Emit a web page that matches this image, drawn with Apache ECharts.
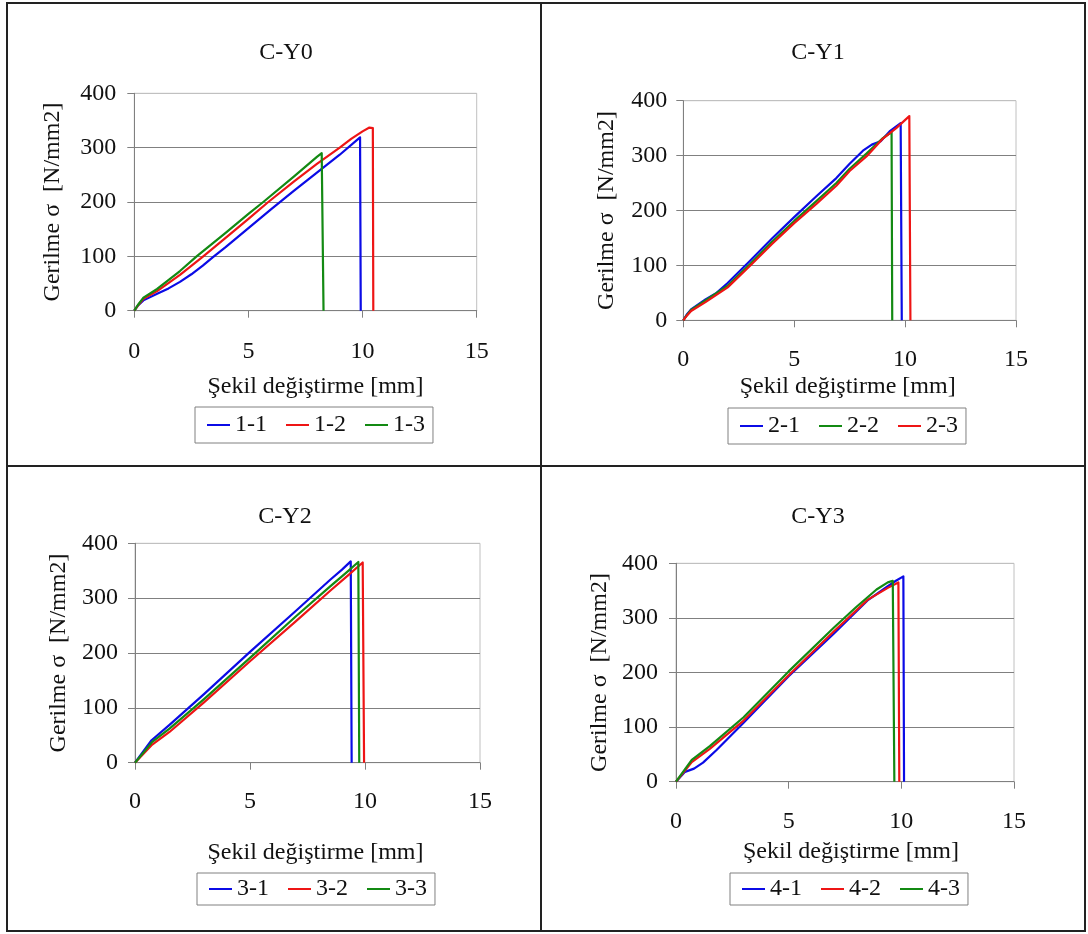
<!DOCTYPE html>
<html>
<head>
<meta charset="utf-8">
<script src="https://cdn.jsdelivr.net/npm/echarts@6/dist/echarts.min.js"></script>
<style>
html,body{margin:0;padding:0;background:#ffffff;}
#chart{width:1088px;height:934px;}
</style>
</head>
<body>
<div id="chart"></div>
<script>
// ---------- data ----------
const panelTitles = ['C-Y0', 'C-Y1', 'C-Y2', 'C-Y3'];
const xAxisTitle = 'Şekil değiştirme [mm]';
const yAxisTitle = 'Gerilme σ  [N/mm2]';
const xTicks = [0, 5, 10, 15];
const yTicks = [0, 100, 200, 300, 400];

const names1 = ['1-1', '1-2', '1-3'];
const names2 = ['2-1', '2-2', '2-3'];
const names3 = ['3-1', '3-2', '3-3'];
const names4 = ['4-1', '4-2', '4-3'];

// C-Y0  [deformation mm, stress N/mm2]
const s1_1 = [[0,0],[0.15,9],[0.4,19],[1,31],[1.5,41],[2,53],[2.5,67],[3,83],[3.46,99],[4,117],[5,152],[6,187],[7,221],[8,254],[9,287],[9.89,319],[9.92,0]];
const s1_2 = [[0,0],[0.15,9],[0.4,22],[1,36],[2,66],[3.02,100],[4,134],[5,169],[5.87,200],[7,238],[8,270],[9,300],[9.5,316],[10,330],[10.3,337],[10.45,336],[10.47,0]];
const s1_3 = [[0,0],[0.15,10],[0.4,24],[1,40],[2,73],[2.73,100],[4,143],[5,178],[5.65,200],[7,247],[8,283],[8.21,290],[8.28,287],[8.29,0]];

// C-Y1
const s2_1 = [[0,0],[0.15,10],[0.35,20],[1,38],[1.5,50],[2,68],[3,108],[4,149],[5,188],[6,226],[6.9,259],[7.5,285],[8.1,309],[8.5,320],[8.9,326],[9.3,344],[9.8,359],[9.85,0]];
const s2_2 = [[0,0],[0.15,9],[0.35,19],[1,36],[2,63],[3,102],[4,143],[5,181],[6,217],[6.9,250],[7.5,276],[8.27,304],[9,332],[9.39,343],[9.42,0]];
const s2_3 = [[0,0],[0.15,8],[0.35,17],[1,33],[2,60],[3,99],[4,139],[5,177],[6,212],[6.9,245],[7.5,272],[8.27,299],[9,331],[9.6,350],[10.19,372],[10.24,0]];

// C-Y2
const s3_1 = [[0,0],[0.72,41],[1.5,69],[3,125],[5,202],[7,277],[8.5,334],[9,352],[9.38,367],[9.42,0]];
const s3_2 = [[0,0],[0.75,33],[1.5,56],[3,110],[5,185],[7,258],[8.5,314],[9.3,343],[9.9,365],[9.96,0]];
const s3_3 = [[0,0],[0.75,38],[1.5,62],[3,116],[5,191],[7,267],[8.5,322],[9.2,347],[9.71,366],[9.75,0]];

// C-Y3
const s4_1 = [[0,0],[0.4,18],[0.8,24],[1.2,35],[1.8,58],[3,108],[5,193],[7,271],[8.5,332],[9.4,358],[9.76,368],[10.09,376],[10.12,0]];
const s4_2 = [[0,0],[0.7,36],[1.5,60],[3,112],[5,195],[7,275],[8.5,333],[9.4,355],[9.87,365],[9.91,0]];
const s4_3 = [[0,0],[0.7,40],[1.5,65],[3,118],[5,202],[7,282],[8,320],[8.9,352],[9.4,365],[9.62,368],[9.69,0]];

const BLUE = '#0b0be6', RED = '#ee1515', GREEN = '#138a13';

const panelSeries = [
  [[names1[0], s1_1, BLUE], [names1[1], s1_2, RED], [names1[2], s1_3, GREEN]],
  [[names2[0], s2_1, BLUE], [names2[1], s2_2, GREEN], [names2[2], s2_3, RED]],
  [[names3[0], s3_1, BLUE], [names3[1], s3_2, RED], [names3[2], s3_3, GREEN]],
  [[names4[0], s4_1, BLUE], [names4[1], s4_2, RED], [names4[2], s4_3, GREEN]]
];
const panelNames = [names1, names2, names3, names4];

// ---------- layout ----------
const layout = [
  {grid:{left:134.3, top:93.3, width:342.4, height:217.4}, title:[286,53], xLab:29, yLab:18, xGap:64, xShift:10, yGap:70, leg:{left:195, top:407, pv:6}},
  {grid:{left:683.3, top:100.7, width:332.7, height:219.6}, title:[818,53], xLab:27, yLab:16, xGap:54, xShift:-2, yGap:65, leg:{left:728, top:408, pv:6}},
  {grid:{left:135, top:543.3, width:345, height:219.4}, title:[285,517], xLab:27, yLab:17, xGap:78, xShift:8, yGap:64, leg:{left:197, top:873, pv:4}},
  {grid:{left:676, top:563.3, width:338, height:218.4}, title:[818,517], xLab:28, yLab:18, xGap:58, xShift:6, yGap:64, leg:{left:730, top:873, pv:4}}
];

const FONT = "'Liberation Serif', 'Times New Roman', serif";
const TXT = '#111111';

const option = {
  animation: false,
  backgroundColor: '#ffffff',
  title: [], grid: [], xAxis: [], yAxis: [], legend: [], series: [],
  graphic: [
    {type:'rect', shape:{x:7, y:3, width:1078, height:928}, style:{fill:'none', stroke:'#222222', lineWidth:2}, silent:true},
    {type:'line', shape:{x1:541, y1:3, x2:541, y2:931}, style:{stroke:'#222222', lineWidth:2}, silent:true},
    {type:'line', shape:{x1:7, y1:466, x2:1085, y2:466}, style:{stroke:'#222222', lineWidth:2}, silent:true}
  ]
};

layout.forEach((L, i) => {
  option.title.push({
    text: panelTitles[i], left: L.title[0], top: L.title[1], padding: 0,
    textAlign: 'center', textVerticalAlign: 'middle',
    textStyle: {fontFamily: FONT, fontSize: 24, fontWeight: 'normal', color: TXT}
  });
  option.grid.push(Object.assign({show: true, borderColor: '#c0c0c0', borderWidth: 1, backgroundColor: 'transparent', containLabel: false}, L.grid));
  const pad = L.xShift >= 0 ? [0, 0, 0, 2 * L.xShift] : [0, -2 * L.xShift, 0, 0];
  option.xAxis.push({
    type: 'value', gridIndex: i,
    min: xTicks[0], max: xTicks[xTicks.length - 1], interval: xTicks[1] - xTicks[0],
    name: xAxisTitle, nameLocation: 'middle', nameGap: L.xGap,
    nameTextStyle: {fontFamily: FONT, fontSize: 24, color: TXT, padding: pad},
    axisLine: {show: true, onZero: false, lineStyle: {color: '#808080', width: 1}},
    axisTick: {show: true, inside: false, length: 7, lineStyle: {color: '#808080'}},
    axisLabel: {fontFamily: FONT, fontSize: 24, color: TXT, margin: L.xLab},
    splitLine: {show: false}
  });
  option.yAxis.push({
    type: 'value', gridIndex: i,
    min: yTicks[0], max: yTicks[yTicks.length - 1], interval: yTicks[1] - yTicks[0],
    name: yAxisTitle, nameLocation: 'middle', nameGap: L.yGap,
    nameTextStyle: {fontFamily: FONT, fontSize: 24, color: TXT},
    axisLine: {show: true, onZero: false, lineStyle: {color: '#808080', width: 1}},
    axisTick: {show: true, inside: false, length: 7, lineStyle: {color: '#808080'}},
    axisLabel: {fontFamily: FONT, fontSize: 24, color: TXT, margin: L.yLab},
    splitLine: {show: true, lineStyle: {color: ['#808080', '#808080', '#808080', '#808080', '#c0c0c0'], width: 1}}
  });
  option.legend.push({
    data: panelNames[i], left: L.leg.left, top: L.leg.top, orient: 'horizontal',
    padding: [L.leg.pv, 8, L.leg.pv, 12], itemGap: 19, itemWidth: 23, itemHeight: 2,
    icon: 'rect', borderColor: '#808080', borderWidth: 1, backgroundColor: '#ffffff',
    selectedMode: false,
    textStyle: {fontFamily: FONT, fontSize: 24, color: TXT, padding: [0, 0, 0, 0]}
  });
  panelSeries[i].forEach(([nm, d, col]) => {
    option.series.push({
      type: 'line', name: nm, data: d, xAxisIndex: i, yAxisIndex: i,
      symbol: 'none', showSymbol: false, smooth: false, clip: true,
      lineStyle: {color: col, width: 2.2, join: 'round'},
      itemStyle: {color: col}, silent: true
    });
  });
});

const chart = echarts.init(document.getElementById('chart'), null, {renderer: 'canvas'});
chart.setOption(option);
</script>
</body>
</html>
